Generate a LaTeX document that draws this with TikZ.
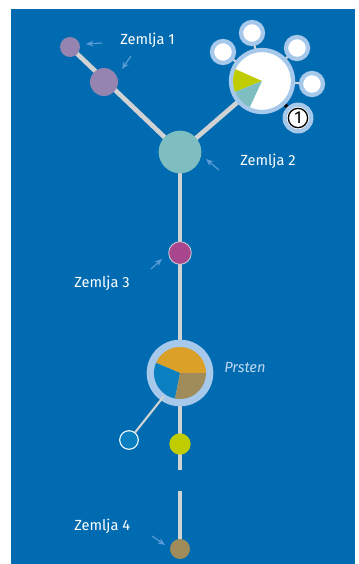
\documentclass[tikz,border=0pt]{standalone}
\usepackage{fontspec}
\setmainfont{Fira Sans}
\usetikzlibrary{arrows.meta}
\definecolor{bgblue}{RGB}{0,107,176}
\definecolor{edgegray}{RGB}{208,210,212}
\definecolor{lilac}{RGB}{150,132,176}
\definecolor{tealc}{RGB}{126,190,192}
\definecolor{magc}{RGB}{168,70,142}
\definecolor{limec}{RGB}{192,204,0}
\definecolor{ringc}{RGB}{166,200,234}
\definecolor{orangec}{RGB}{218,160,40}
\definecolor{brownc}{RGB}{160,140,90}
\definecolor{piblue}{RGB}{10,128,192}
\definecolor{arrowc}{RGB}{90,155,216}
\definecolor{prstenc}{RGB}{190,215,240}
\begin{document}
\begin{tikzpicture}[x=0.75pt,y=-0.75pt,
  edge/.style={draw=edgegray,line width=3.5pt},
  thinedge/.style={draw=edgegray,line width=1.6pt},
  dot/.style={circle,inner sep=0pt,minimum size=#1},
  lab/.style={text=white,font=\fontsize{11}{13}\selectfont,inner sep=0pt},
  pointer/.style={draw=arrowc,line width=0.9pt,-{Stealth[length=5.5pt,width=4.5pt]}},
  sat/.style={circle,fill=white,draw=ringc,line width=3.2pt,minimum size=16.5pt,inner sep=0pt}
]
\fill[bgblue] (11,9) rectangle (355,564);
\useasboundingbox (0,0) rectangle (358,564);
% coordinates
\coordinate (c2) at (180,152);
\coordinate (big) at (262,81);
\coordinate (pr) at (180,373);
% edges
\draw[edge] (70,47) -- (c2);
\draw[edge] (c2) -- (big);
\draw[edge] (c2) -- (180,470);
\draw[edge] (180,491) -- (180,549);
% satellites
\foreach \n/\p in {s1/{(223,52)},s2/{(252,33)},s3/{(297,48)},s4/{(312,84)}}{
  \draw[thinedge] (big) -- \p;
}
\draw[black,line width=2.5pt] (big) -- (298,118);
\foreach \n/\p in {s1/{(223,52)},s2/{(252,33)},s3/{(297,48)},s4/{(312,84)}}{
  \node[sat] (\n) at \p {};
}
\node[sat,minimum size=20pt] (s5) at (298,118) {};
\node[circle,draw=black,fill=white,line width=1pt,minimum size=14.5pt,inner sep=0pt,font=\fontsize{13}{13}\selectfont] (one) at (298,118) {1};
% big node
\node[circle,fill=white,draw=ringc,line width=3.2pt,minimum size=46.5pt,inner sep=0pt] (bignode) at (big) {};
\fill[limec] (big) -- ++(-156:29) arc[start angle=-156,end angle=-202,radius=29] -- cycle;
\fill[tealc] (big) -- ++(-202:29) arc[start angle=-202,end angle=-245,radius=29] -- cycle;
% Zemlja nodes
\node[dot=15pt,fill=lilac] (z1a) at (70,47) {};
\node[dot=21pt,fill=lilac] (z1b) at (104,82) {};
\node[dot=32pt,fill=tealc] (z2) at (c2) {};
\node[dot=17pt,fill=magc,draw=edgegray,line width=0.6pt] (z3) at (180,253) {};
% Prsten
\node[dot=50pt,fill=ringc] (ring) at (pr) {};
\fill[orangec] (pr) -- ++(0:26) arc[start angle=0,end angle=-157,radius=26] -- cycle;
\fill[piblue] (pr) -- ++(-157:26) arc[start angle=-157,end angle=-259,radius=26] -- cycle;
\fill[brownc] (pr) -- ++(-259:26) arc[start angle=-259,end angle=-360,radius=26] -- cycle;
\coordinate (prfoot) at (164,396);
\node[dot=14pt,fill=piblue,draw=white,line width=0.8pt] (small) at (129,440) {};
\draw[thinedge] (prfoot) -- (small);
\node[dot=16pt,fill=limec] (lime) at (180,444) {};
\node[dot=15pt,fill=brownc] (z4) at (180,549) {};
% labels
\node[lab,anchor=west] (l1) at (120,40) {Zemlja 1};
\node[lab,anchor=west] (l2) at (240,161) {Zemlja 2};
\node[lab,anchor=west] (l3) at (74,283) {Zemlja 3};
\node[lab,anchor=west] (l4) at (74,526) {Zemlja 4};
\node[text=prstenc,font=\itshape\fontsize{11}{13}\selectfont,anchor=west,inner sep=0pt] (lp) at (224,368) {Prsten};
% pointers
\draw[pointer] (102,43) -- (86,44);
\draw[pointer] (131,56) -- (122,69);
\draw[pointer] (219,170) -- (206,159);
\draw[pointer] (151,269) -- (162,259);
\draw[pointer] (152,536) -- (165,545);
\end{tikzpicture}
\end{document}
